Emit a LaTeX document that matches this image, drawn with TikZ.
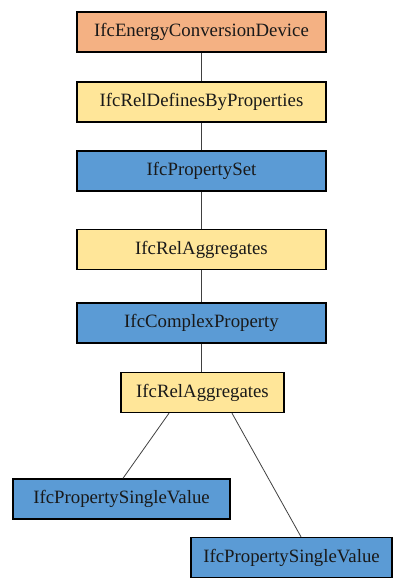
\documentclass[tikz,border=0pt]{standalone}
\usepackage{fontspec}
\setmainfont{Liberation Serif}
\usetikzlibrary{positioning}
\definecolor{entityorange}{HTML}{F4B183}
\definecolor{relyellow}{HTML}{FFE699}
\definecolor{propblue}{HTML}{5B9BD5}
\begin{document}
\begin{tikzpicture}[x=1pt,y=-1pt]

\tikzstyle{ifcbox}=[rectangle, draw=black, line width=1.4pt, minimum height=40pt, inner sep=0pt, font=\fontsize{18.8}{21}\selectfont, text=black!90]
\tikzstyle{entity}=[ifcbox, fill=entityorange, minimum width=249pt]
\tikzstyle{relation}=[ifcbox, fill=relyellow]
\tikzstyle{property}=[ifcbox, fill=propblue]
\tikzstyle{link}=[draw=black!75, line width=0.8pt]

\useasboundingbox (0,0) rectangle (396,578);

\node (device) [entity] at (201.5,32) {IfcEnergyConversionDevice};
\node (defines) [relation, minimum width=249pt] at (201.5,102) {IfcRelDefinesByProperties};
\node (pset) [property, minimum width=249pt] at (201.5,171) {IfcPropertySet};
\node (aggr1) [relation, minimum width=249pt] at (201.5,249.5) {IfcRelAggregates};
\node (complex) [property, minimum width=249pt] at (201.5,323) {IfcComplexProperty};
\node (aggr2) [relation, minimum width=163pt] at (202.5,392.5) {IfcRelAggregates};
\node (single1) [property, minimum width=217pt] at (121.5,499) {IfcPropertySingleValue};
\node (single2) [property, minimum width=201pt] at (291.5,557.5) {IfcPropertySingleValue};

\draw [link] (device) -- (defines);
\draw [link] (defines) -- (pset);
\draw [link] (pset) -- (aggr1);
\draw [link] (aggr1) -- (complex);
\draw [link] (complex.south) -- (complex.south |- aggr2.north);
\draw [link] ([xshift=-33.5pt]aggr2.south) -- ([xshift=1.5pt]single1.north);
\draw [link] ([xshift=29.5pt]aggr2.south) -- ([xshift=9.5pt]single2.north);
\end{tikzpicture}
\end{document}
